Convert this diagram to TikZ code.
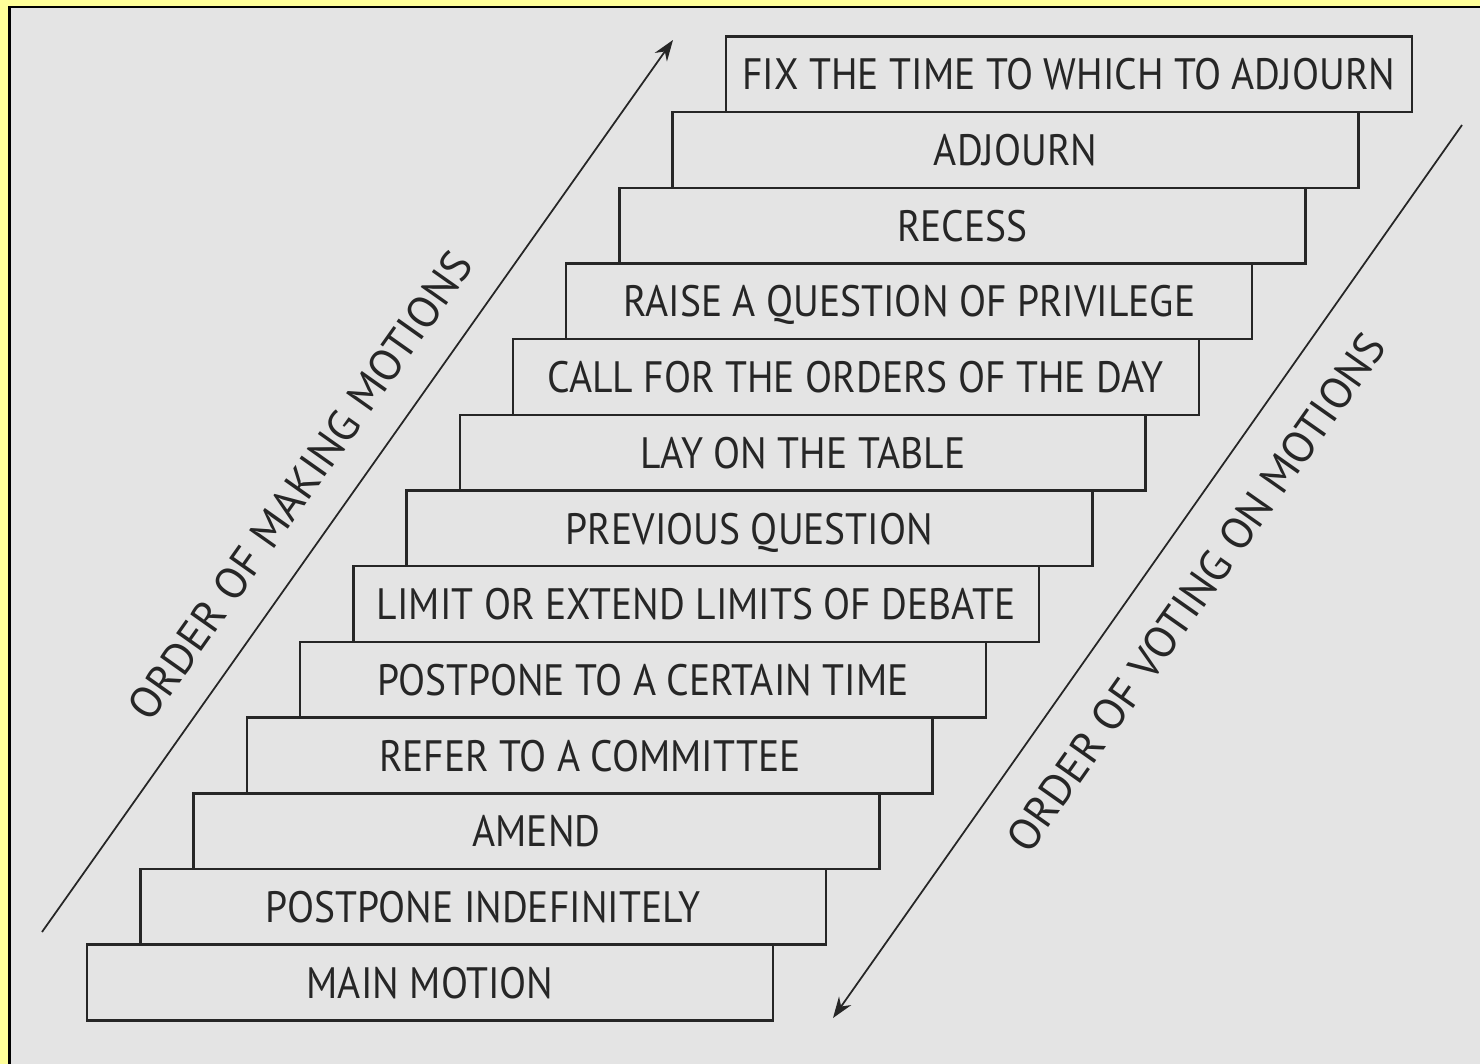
\documentclass[tikz,border=0pt]{standalone}
\usepackage{fontspec}
\newfontfamily\stepfont[FakeStretch=0.9]{PT Sans}
\newfontfamily\labelfont{PT Sans}
\usetikzlibrary{positioning, arrows.meta}
\definecolor{paneyellow}{RGB}{255,255,153}
\definecolor{panegray}{RGB}{228,228,228}
\tikzset{x=0.02cm, y=-0.02cm, % one unit is one pixel of the reference
stepbox/.style={ % Sets the properties for each motion
draw=black!85, line width=1.4pt, outer sep=0pt, text=black!85,
font=\stepfont\fontsize{25}{29}\selectfont, text depth=0pt,
minimum width=13.72cm, minimum height=1.514cm},
motion label/.style={ % Text along the two long arrows
sloped, inner sep=0pt, text=black!85,
font=\labelfont\fontsize{25}{29}\selectfont},
motion arrow/.style={ % Sets the properties for the two long arrows
draw=black!85, line width=1pt,
>={Stealth[length=12pt, width=8.5pt, inset=4pt]}}}

\begin{document}
\begin{tikzpicture}

    \useasboundingbox (0,0) rectangle (1480,1064);
    \clip (0,0) rectangle (1480,1064);
    \fill[paneyellow] (0,0) rectangle (1480,1064);
    \filldraw[fill=panegray, draw=black, line width=1.7pt] (9.5,7) rectangle (1500,1090);

    \node[stepbox] (main) at (430,982.5) {MAIN MOTION};
    \node[stepbox, above=0pt of main, xshift=1.065cm] (indef) {POSTPONE INDEFINITELY};
    \node[stepbox, above=0pt of indef, xshift=1.065cm] (amend) {AMEND};
    \node[stepbox, above=0pt of amend, xshift=1.065cm] (refer) {REFER TO A COMMITTEE};
    \node[stepbox, above=0pt of refer, xshift=1.065cm] (postpone) {POSTPONE TO A CERTAIN TIME};
    \node[stepbox, above=0pt of postpone, xshift=1.065cm] (limit) {LIMIT OR EXTEND LIMITS OF DEBATE};
    \node[stepbox, above=0pt of limit, xshift=1.065cm] (previous) {PREVIOUS QUESTION};
    \node[stepbox, above=0pt of previous, xshift=1.065cm] (table) {LAY ON THE TABLE};
    \node[stepbox, above=0pt of table, xshift=1.065cm] (orders) {CALL FOR THE ORDERS OF THE DAY};
    \node[stepbox, above=0pt of orders, xshift=1.065cm] (privilege) {RAISE A QUESTION OF PRIVILEGE};
    \node[stepbox, above=0pt of privilege, xshift=1.065cm] (recess) {RECESS};
    \node[stepbox, above=0pt of recess, xshift=1.065cm] (adjourn) {ADJOURN};
    \node[stepbox, above=0pt of adjourn, xshift=1.065cm] (fixtime) {FIX THE TIME TO WHICH TO ADJOURN};

    \coordinate (makestart) at (42,932);
    \coordinate (makeend) at (673,40);
    \coordinate (votestart) at (1462,125);
    \coordinate (voteend) at (833,1018);

    \draw[motion arrow, ->] (makestart) -- node[motion label, pos=0.47, above=0.6cm] (makelabel) {ORDER OF MAKING MOTIONS} (makeend);
    \draw[motion arrow, <-] (voteend) -- node[motion label, pos=0.51, below=0.7cm] (votelabel) {ORDER OF VOTING ON MOTIONS} (votestart);

\end{tikzpicture}
\end{document}
